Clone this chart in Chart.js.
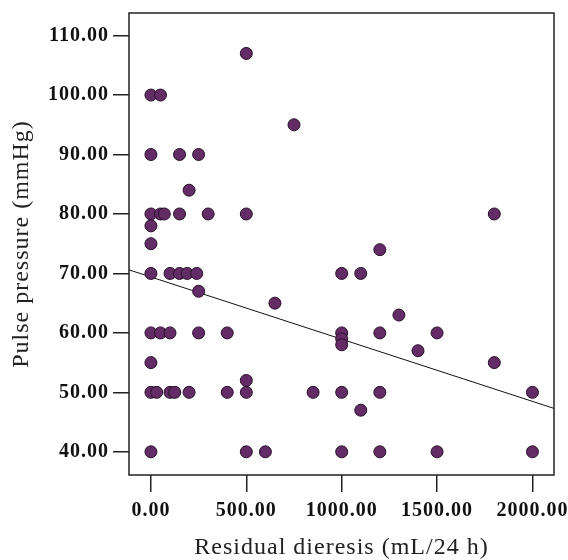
<!DOCTYPE html>
<html>
<head>
<meta charset="utf-8">
<script src="https://cdn.jsdelivr.net/npm/chart.js@4"></script>
<style>
  body { margin: 0; background: #fff; }
  #wrap { width: 568px; height: 560px; }
</style>
</head>
<body>
<div id="wrap"><canvas id="scatterChart"></canvas></div>
<script>
// Data: residual diuresis (mL/24 h) vs pulse pressure (mmHg)
const residualDiuresis = [
  500,
  0, 50,
  750,
  0, 150, 250,
  200,
  0, 50, 70, 150, 300, 500, 1800,
  0, 0,
  1200,
  0, 100, 150, 190, 240, 1000, 1100,
  250, 650, 1300,
  0, 50, 100, 250, 400, 1000, 1200, 1500,
  1000, 1000, 1400,
  0, 1800,
  500,
  0, 30, 100, 125, 200, 400, 500, 850, 1000, 1200, 2000,
  1100,
  0, 500, 600, 1000, 1200, 1500, 2000
];
const pulsePressure = [
  107,
  100, 100,
  95,
  90, 90, 90,
  84,
  80, 80, 80, 80, 80, 80, 80,
  78, 75,
  74,
  70, 70, 70, 70, 70, 70, 70,
  67, 65, 63,
  60, 60, 60, 60, 60, 60, 60, 60,
  59, 58, 57,
  55, 55,
  52,
  50, 50, 50, 50, 50, 50, 50, 50, 50, 50, 50,
  47,
  40, 40, 40, 40, 40, 40, 40
];
const xTicks = [0, 500, 1000, 1500, 2000];
const yTicks = [40, 50, 60, 70, 80, 90, 100, 110];
const xRange = [-115, 2113];
const yRange = [36.1, 113.8];
// fit line as drawn in the picture
const fitIntercept = 69.4;
const fitSlope = -0.01046;

const points = residualDiuresis.map((x, i) => ({ x: x, y: pulsePressure[i] }));
const fitLine = xRange.map(x => ({ x: x, y: fitIntercept + fitSlope * x }));

const serif = "'Liberation Serif', 'Times New Roman', serif";

// box around the plot area + wider letter spacing for the axis text
const frame = {
  id: "frame",
  beforeDraw(chart) {
    chart.ctx.letterSpacing = "1px";
  },
  beforeDatasetsDraw(chart) {
    chart.ctx.letterSpacing = "0px";
  },
  afterDraw(chart) {
    const a = chart.chartArea;
    const ctx = chart.ctx;
    ctx.save();
    ctx.strokeStyle = "#222";
    ctx.lineWidth = 1.5;
    ctx.strokeRect(a.left, a.top, a.right - a.left, a.bottom - a.top);
    ctx.restore();
  }
};

new Chart(document.getElementById("scatterChart"), {
  type: "scatter",
  data: {
    datasets: [
      {
        label: "Patients",
        data: points,
        backgroundColor: "#642c66",
        borderColor: "#261028",
        borderWidth: 1,
        pointRadius: 6,
        pointHoverRadius: 6,
      },
      {
        label: "Fit",
        type: "line",
        data: fitLine,
        borderColor: "#111",
        borderWidth: 1,
        pointRadius: 0,
        fill: false,
      },
    ],
  },
  options: {
    responsive: true,
    maintainAspectRatio: false,
    animation: false,
    devicePixelRatio: 1,
    layout: { padding: { top: 13, right: 14, left: 0, bottom: 0 } },
    plugins: {
      legend: { display: false },
      tooltip: { enabled: false },
    },
    scales: {
      x: {
        type: "linear",
        min: xRange[0],
        max: xRange[1],
        afterBuildTicks: (s) => { s.ticks = xTicks.map(v => ({ value: v })); },
        afterFit: (s) => { s.height = 85; s.paddingLeft = 0; s.paddingRight = 0; },
        grid: { drawOnChartArea: false, tickLength: 17, color: "#222", lineWidth: 1.5 },
        border: { display: false },
        ticks: {
          color: "#111",
          padding: 7,
          maxRotation: 0,
          font: { family: serif, size: 20, weight: "bold" },
          callback: (v) => Number(v).toFixed(2),
        },
        title: {
          display: true,
          text: "Residual dieresis (mL/24 h)",
          color: "#222",
          font: { family: serif, size: 24, lineHeight: 1 },
          padding: { top: 0, bottom: 0 },
        },
      },
      y: {
        type: "linear",
        min: yRange[0],
        max: yRange[1],
        afterBuildTicks: (s) => { s.ticks = yTicks.map(v => ({ value: v })); },
        afterFit: (s) => { s.width = 129; s.paddingTop = 0; s.paddingBottom = 0; },
        grid: { drawOnChartArea: false, tickLength: 16, color: "#222", lineWidth: 1.5 },
        border: { display: false },
        ticks: {
          color: "#111",
          padding: 4,
          font: { family: serif, size: 20, weight: "bold" },
          callback: (v) => Number(v).toFixed(2),
        },
        title: {
          display: true,
          text: "Pulse pressure (mmHg)",
          color: "#222",
          font: { family: serif, size: 24, lineHeight: 1 },
          padding: { top: 10, bottom: 0 },
        },
      },
    },
  },
  plugins: [frame],
});
</script>
</body>
</html>
